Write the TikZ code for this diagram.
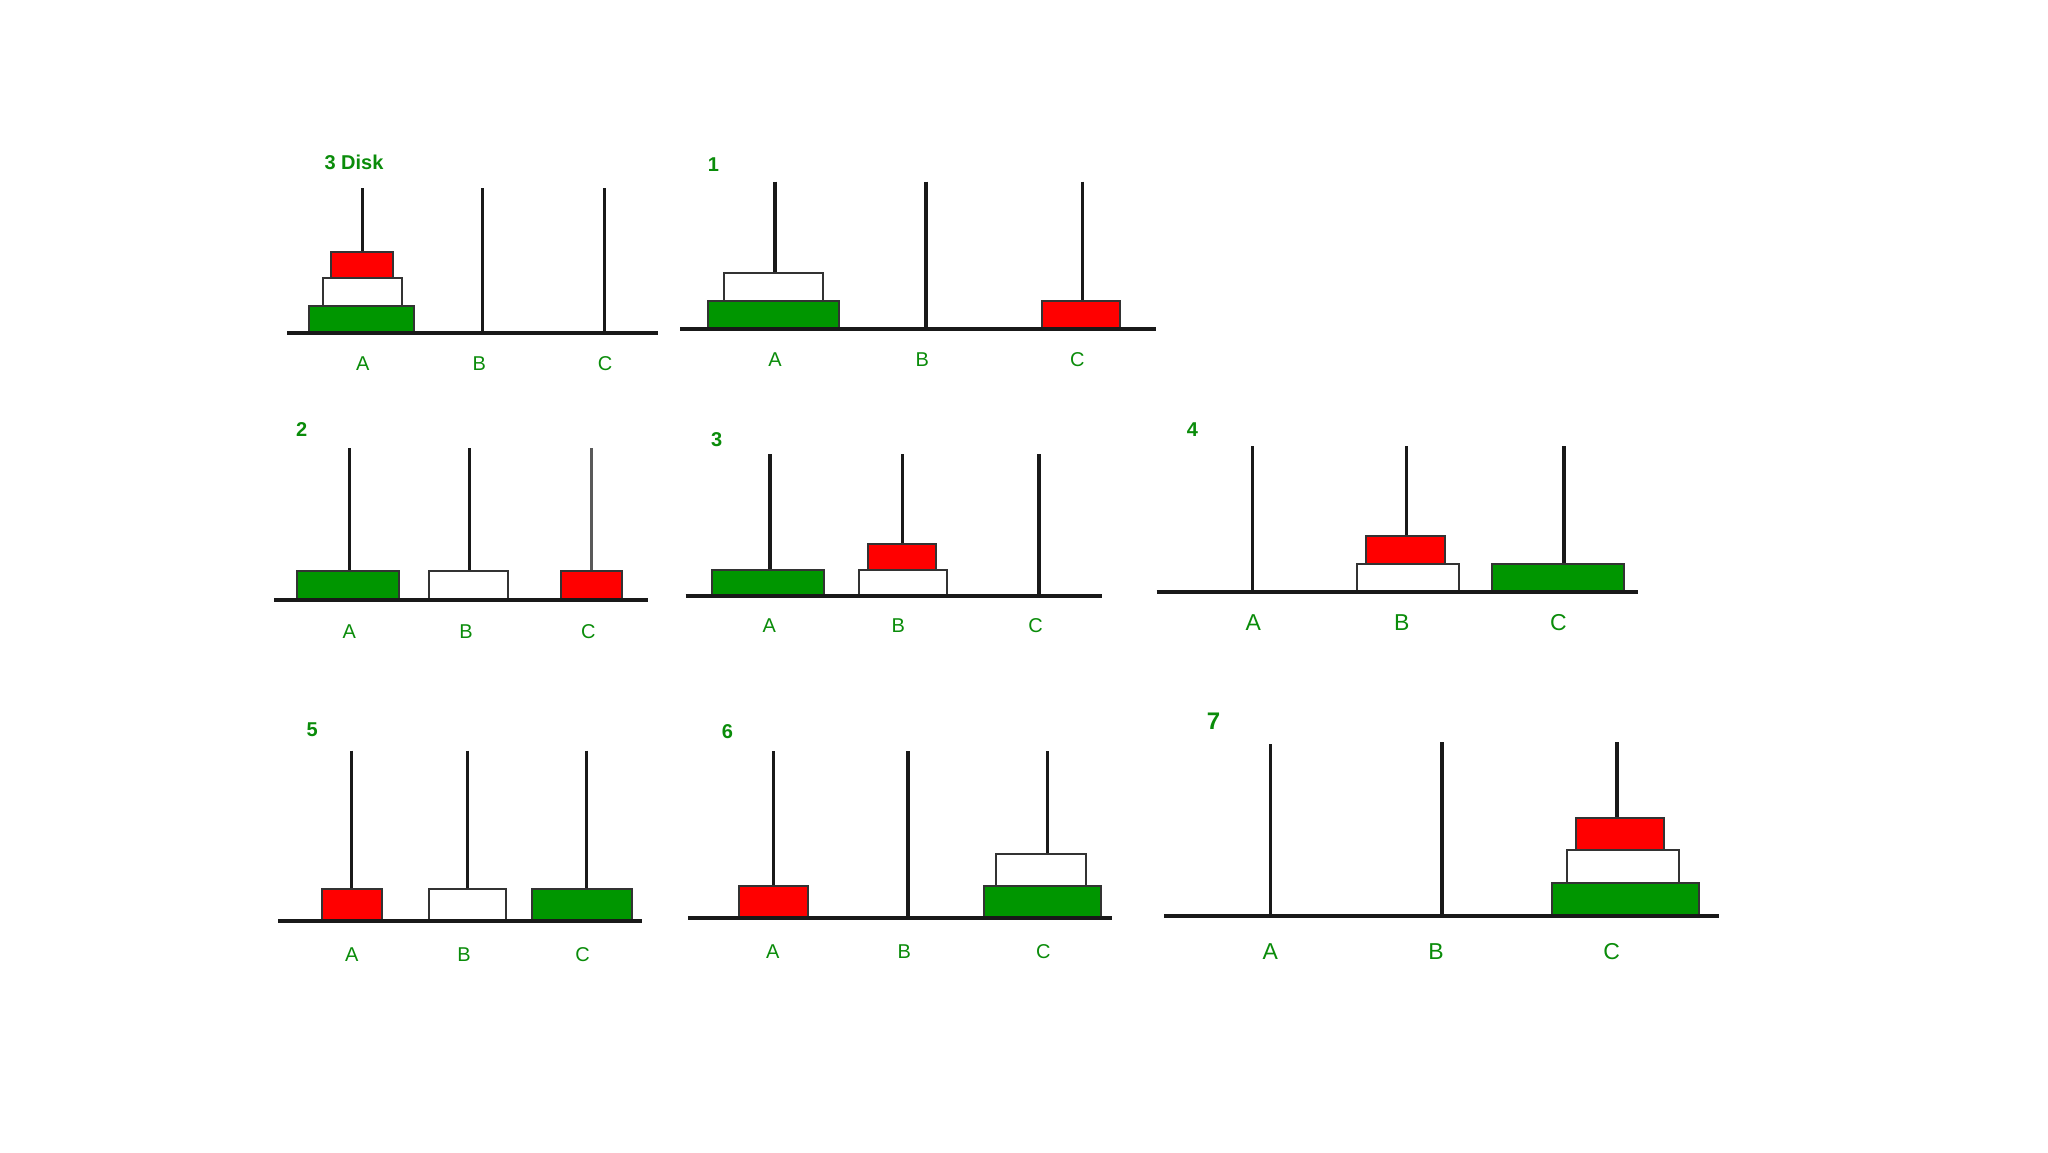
\documentclass[tikz,border=0pt]{standalone}
\usepackage{fontspec}
\setmainfont{Liberation Sans}
\definecolor{dgreen}{RGB}{0,150,0}
\definecolor{tgreen}{RGB}{10,140,10}
\definecolor{dred}{RGB}{255,0,0}
\begin{document}
\begin{tikzpicture}[x=0.5pt,y=-0.5pt,
  peg/.style={draw=black!90,line width=1.6pt},
  baseline/.style={draw=black!90,line width=2pt},
  gdisk/.style={fill=dgreen,draw=black!80,line width=1.1pt},
  rdisk/.style={fill=dred,draw=black!80,line width=1.1pt},
  wdisk/.style={fill=white,draw=black!80,line width=1.1pt},
  lbl/.style={text=tgreen,font=\fontsize{10}{12}\selectfont,inner sep=0pt},
  biglbl/.style={text=tgreen,font=\fontsize{11.5}{13}\selectfont,inner sep=0pt},
  num/.style={text=tgreen,font=\bfseries\fontsize{10}{12}\selectfont,inner sep=0pt}]
\useasboundingbox (0,0) rectangle (2048,1152);
\fill[white] (0,0) rectangle (2048,1152);

% ---------- Panel 0 : 3 Disk ----------
\node[num] (t0) at (354,162) {3 Disk};
\draw[peg] (362.7,188) -- (362.7,332);
\draw[peg] (482.7,188) -- (482.7,332);
\draw[peg] (604.3,188) -- (604.3,332);
\draw[gdisk] (309.3,305.7) rectangle (414,332.7);
\draw[wdisk] (322.7,278.3) rectangle (401.7,305.7);
\draw[rdisk] (330.7,251.7) rectangle (393.3,278.3);
\draw[baseline] (287,332.7) -- (658,332.7);
\node[lbl] (a0) at (362.7,363.3) {A};
\node[lbl] (b0) at (479.3,363.3) {B};
\node[lbl] (c0) at (605,363.3) {C};

% ---------- Panel 1 ----------
\node[num] (t1) at (713.3,165) {1};
\draw[peg] (775,181.7) -- (775,329);
\draw[peg] (926,181.7) -- (926,329);
\draw[peg] (1082.3,181.7) -- (1082.3,329);
\draw[gdisk] (707.7,300.7) rectangle (839,329.3);
\draw[wdisk] (724,273.3) rectangle (823.3,300.7);
\draw[rdisk] (1042.3,300.7) rectangle (1120,329.3);
\draw[baseline] (680,329.3) -- (1156,329.3);
\node[lbl] (a1) at (775,359.3) {A};
\node[lbl] (b1) at (922.3,359.3) {B};
\node[lbl] (c1) at (1077.3,359.3) {C};

% ---------- Panel 2 ----------
\node[num] (t2) at (301.7,429.3) {2};
\draw[peg] (349.3,448.3) -- (349.3,600);
\draw[peg] (469.3,448.3) -- (469.3,600);
\draw[peg,draw=black!65] (591.7,448.3) -- (591.7,600);
\draw[gdisk] (296.7,571) rectangle (399.3,600);
\draw[wdisk] (429.3,571) rectangle (508.3,600);
\draw[rdisk] (561,571) rectangle (622.3,600);
\draw[baseline] (274.3,600) -- (648.3,600);
\node[lbl] (a2) at (349.3,631.7) {A};
\node[lbl] (b2) at (466,631.7) {B};
\node[lbl] (c2) at (588.3,631.7) {C};

% ---------- Panel 3 ----------
\node[num] (t3) at (716.7,439.3) {3};
\draw[peg] (770,454.3) -- (770,596);
\draw[peg] (902.3,454.3) -- (902.3,596);
\draw[peg] (1039,454.3) -- (1039,596);
\draw[gdisk] (711.7,570) rectangle (824.3,596);
\draw[wdisk] (859,570) rectangle (946.7,596);
\draw[rdisk] (867.7,544) rectangle (935.7,570);
\draw[baseline] (685.7,596) -- (1102.3,596);
\node[lbl] (a3) at (769.3,626) {A};
\node[lbl] (b3) at (898.3,626) {B};
\node[lbl] (c3) at (1035.7,626) {C};

% ---------- Panel 4 ----------
\node[num] (t4) at (1192.3,429.3) {4};
\draw[peg] (1252.7,446) -- (1252.7,592);
\draw[peg] (1406.7,446) -- (1406.7,592);
\draw[peg] (1564,446) -- (1564,592);
\draw[wdisk] (1356.7,564.3) rectangle (1459,592.3);
\draw[rdisk] (1366,536) rectangle (1445,564.3);
\draw[gdisk] (1492.3,564.3) rectangle (1624.3,592.3);
\draw[baseline] (1156.7,592.3) -- (1637.7,592.3);
\node[biglbl] (a4) at (1253.3,622.7) {A};
\node[biglbl] (b4) at (1401.7,622.7) {B};
\node[biglbl] (c4) at (1558.3,622.7) {C};

% ---------- Panel 5 ----------
\node[num] (t5) at (312.3,730) {5};
\draw[peg] (351.7,750.7) -- (351.7,920);
\draw[peg] (467.7,750.7) -- (467.7,920);
\draw[peg] (586.7,750.7) -- (586.7,920);
\draw[rdisk] (322.3,889) rectangle (382.3,920.7);
\draw[wdisk] (429.3,889) rectangle (506,920.7);
\draw[gdisk] (532.3,889) rectangle (632.3,920.7);
\draw[baseline] (278.3,920.7) -- (641.7,920.7);
\node[lbl] (a5) at (351.7,955) {A};
\node[lbl] (b5) at (464,955) {B};
\node[lbl] (c5) at (582.7,955) {C};

% ---------- Panel 6 ----------
\node[num] (t6) at (727.3,731.7) {6};
\draw[peg] (773.3,751) -- (773.3,917);
\draw[peg,line width=2pt] (907.7,751) -- (907.7,917);
\draw[peg] (1047.7,751) -- (1047.7,917);
\draw[rdisk] (739,886) rectangle (807.7,917.7);
\draw[gdisk] (984.3,886) rectangle (1101,917.7);
\draw[wdisk] (996,854) rectangle (1085.7,886);
\draw[baseline] (688.3,917.7) -- (1112.3,917.7);
\node[lbl] (a6) at (772.7,951.7) {A};
\node[lbl] (b6) at (904.3,951.7) {B};
\node[lbl] (c6) at (1043.3,951.7) {C};

% ---------- Panel 7 ----------
\node[num,font=\bfseries\fontsize{12}{14}\selectfont] (t7) at (1213.6,721.5) {7};
\draw[peg] (1270.2,744.3) -- (1270.2,915);
\draw[peg,line width=2pt] (1441.5,742.3) -- (1441.5,915);
\draw[peg] (1616.9,742.3) -- (1616.9,915);
\draw[gdisk] (1552.1,882.7) rectangle (1698.7,915.7);
\draw[wdisk] (1567.3,850) rectangle (1679,882.7);
\draw[rdisk] (1576.2,817.7) rectangle (1664.2,850);
\draw[baseline] (1164.1,915.7) -- (1718.6,915.7);
\node[biglbl] (a7) at (1270.2,951.7) {A};
\node[biglbl] (b7) at (1436,951.7) {B};
\node[biglbl] (c7) at (1611.7,951.7) {C};
\end{tikzpicture}
\end{document}
